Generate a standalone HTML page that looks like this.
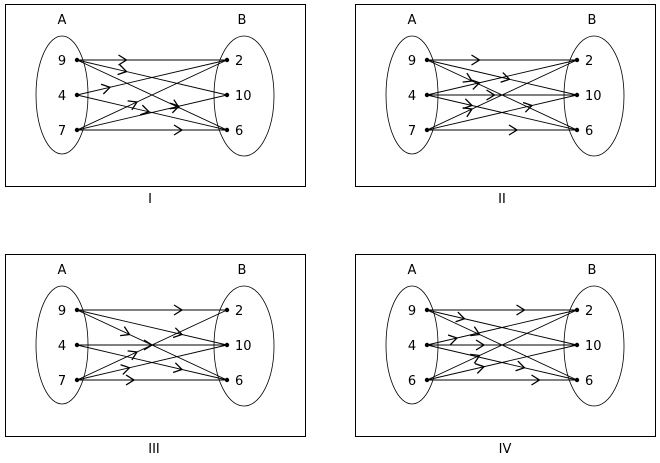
<!DOCTYPE html>
<html><head><style>
html,body{margin:0;padding:0;background:#fff;width:660px;height:463px;overflow:hidden}
svg text{font-family:"DejaVu Sans","Liberation Sans",sans-serif;font-size:13px;fill:#000}
</style></head><body>
<svg id="s" width="660" height="463" viewBox="0 0 660 463" xmlns="http://www.w3.org/2000/svg"></svg>
<script>
const s=document.getElementById('s');let h='';
const panels=[
 {dx:0,dy:0,lab:'I',lx:150,L:['9','4','7'],E:[[0,0,.33],[0,1,.33],[0,2,.68],[1,0,.22],[1,2,.48],[2,0,.4],[2,1,.68],[2,2,.7]]},
 {dx:350,dy:0,lab:'II',lx:152,L:['9','4','7'],E:[[0,0,.35],[0,1,.55],[0,2,.3],[1,0,.35],[1,1,.45],[1,2,.3],[2,0,.3],[2,1,.7],[2,2,.6]]},
 {dx:0,dy:250,lab:'III',lx:154,L:['9','4','7'],E:[[0,0,.7],[0,1,.7],[0,2,.35],[1,1,.5],[1,2,.7],[2,0,.4],[2,1,.35],[2,2,.38]]},
 {dx:350,dy:250,lab:'IV',lx:155,L:['9','4','6'],E:[[0,0,.65],[0,1,.25],[0,2,.35],[1,0,.2],[1,1,.38],[1,2,.65],[2,0,.35],[2,1,.38],[2,2,.75]]}
];
const ys=[60,95,130];
for(const p of panels){
 const X=v=>v+p.dx,Y=v=>v+p.dy;
 h+=`<rect x="${X(5.5)}" y="${Y(4.5)}" width="300" height="182" fill="none" stroke="#000"/>`;
 h+=`<ellipse cx="${X(62)}" cy="${Y(95)}" rx="26" ry="59" fill="none" stroke="#000" stroke-width="0.8"/>`;
 h+=`<ellipse cx="${X(244)}" cy="${Y(96)}" rx="30" ry="60" fill="none" stroke="#000" stroke-width="0.8"/>`;
 h+=`<text x="${X(62)}" y="${Y(24)}" text-anchor="middle">A</text><text x="${X(242)}" y="${Y(24)}" text-anchor="middle">B</text>`;
 p.L.forEach((l,i)=>{h+=`<text x="${X(62)}" y="${Y(ys[i]+5)}" text-anchor="middle">${l}</text><circle cx="${X(77)}" cy="${Y(ys[i])}" r="2.2"/>`;});
 ['2','10','6'].forEach((l,i)=>{h+=`<text x="${X(235)}" y="${Y(ys[i]+5)}">${l}</text><circle cx="${X(227)}" cy="${Y(ys[i])}" r="2.2"/>`;});
 h+=`<text x="${X(p.lx)}" y="${Y(203)}" text-anchor="middle">${p.lab}</text>`;
 for(const [a,b,t] of p.E){
  const x1=X(77),y1=Y(ys[a]),x2=X(227),y2=Y(ys[b]);
  h+=`<line x1="${x1}" y1="${y1}" x2="${x2}" y2="${y2}" stroke="#000" stroke-width="0.9"/>`;
  const dx=x2-x1,dy=y2-y1,L=Math.hypot(dx,dy),ux=dx/L,uy=dy/L,nx=-uy,ny=ux;
  const px=x1+dx*t,py=y1+dy*t;
  h+=`<polyline points="${px-8*ux+5*nx},${py-8*uy+5*ny} ${px},${py} ${px-8*ux-5*nx},${py-8*uy-5*ny}" fill="none" stroke="#000" stroke-width="1.3"/>`;
 }
}
s.innerHTML=h;
</script>
</body></html>
